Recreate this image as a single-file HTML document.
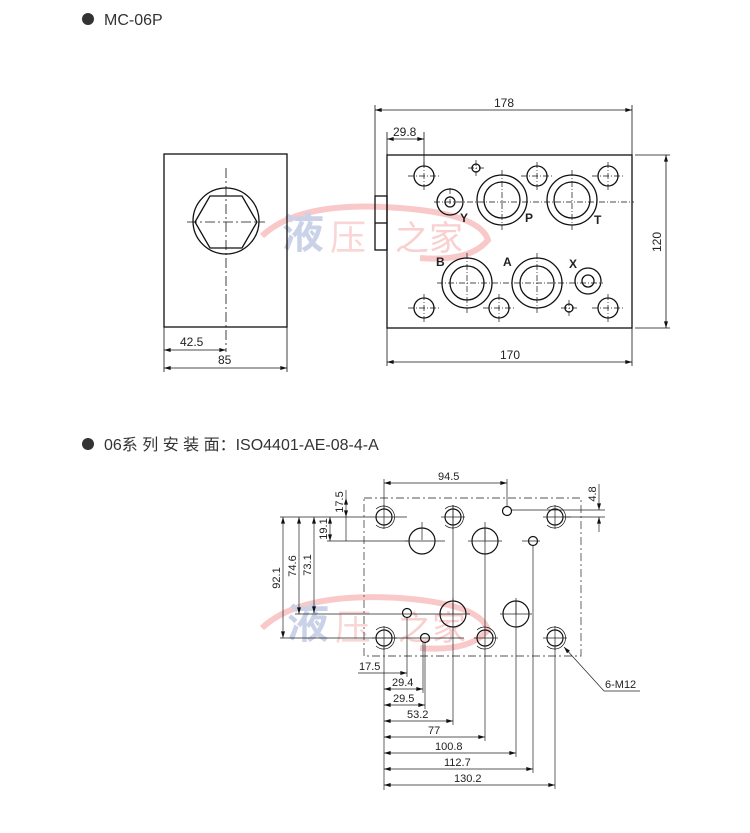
<!DOCTYPE html>
<html><head><meta charset="utf-8"><style>
html,body{margin:0;padding:0;background:#fff;}
svg{display:block}
text{font-family:"Liberation Sans","Noto Sans CJK SC",sans-serif;fill:#222}
</style></head><body>
<svg width="750" height="833" viewBox="0 0 750 833" xmlns="http://www.w3.org/2000/svg">
<defs>
<marker id="a" viewBox="0 0 10 6" refX="10" refY="3" markerWidth="8" markerHeight="4" orient="auto-start-reverse" markerUnits="userSpaceOnUse"><path d="M0,0L10,3L0,6z" fill="#111"/></marker>
</defs>
<!-- watermarks -->
<g opacity="0.35">
<path d="M262,236 Q300,200 400,208 Q480,214 488,240 Q470,262 420,258" fill="none" stroke="#e66" stroke-width="6"/>
<text x="282" y="248" font-size="42" fill="#6b7fc0" style="fill:#6b7fc0" font-family="Noto Serif CJK SC,serif" font-weight="bold">液</text>
<text x="330" y="250" font-size="36" style="fill:#e88">压</text>
<text x="395" y="250" font-size="34" style="fill:#e77">之家</text>
<path d="M262,628 Q300,592 400,598 Q480,604 488,630 Q470,652 420,648" fill="none" stroke="#e66" stroke-width="6"/>
<text x="287" y="638" font-size="42" style="fill:#6b7fc0" font-family="Noto Serif CJK SC,serif" font-weight="bold">液</text>
<text x="335" y="640" font-size="36" style="fill:#e88">压</text>
<text x="398" y="640" font-size="34" style="fill:#e77">之家</text>
</g>

<!-- headers -->
<circle cx="88" cy="19" r="6" fill="#333"/>
<text x="104" y="25" font-size="16" style="fill:#333">MC-06P</text>
<circle cx="88" cy="444" r="6" fill="#333"/>
<text x="104" y="450" font-size="16" style="fill:#333">06系 列 安 装 面：ISO4401-AE-08-4-A</text>

<g stroke="#111" fill="none" stroke-width="1.3">
<!-- left view -->
<rect x="164" y="154" width="123" height="173"/>
<circle cx="226" cy="221" r="33"/>
<polygon points="195,222 210,196 242,196 257,222 242,248 210,248"/>
</g>
<g stroke="#111" fill="none" stroke-width="0.8">
<line x1="226" y1="168" x2="226" y2="352" stroke-dasharray="10,3,2,3"/>
<line x1="187" y1="222" x2="265" y2="222" stroke-dasharray="10,3,2,3"/>
<line x1="164" y1="327" x2="164" y2="372"/>
<line x1="287" y1="327" x2="287" y2="372"/>
<line x1="164" y1="350" x2="226" y2="350" marker-start="url(#a)" marker-end="url(#a)"/>
<line x1="164" y1="368" x2="287" y2="368" marker-start="url(#a)" marker-end="url(#a)"/>
</g>
<text x="180" y="346" font-size="12">42.5</text>
<text x="218" y="364" font-size="12">85</text>

<!-- top plate -->
<g stroke="#111" fill="none" stroke-width="1.3">
<rect x="387" y="155" width="245" height="173"/>
<rect x="375" y="196" width="12" height="54"/>
<line x1="375" y1="223" x2="387" y2="223"/>
<circle cx="424" cy="176" r="10"/><circle cx="537" cy="176" r="10"/><circle cx="608" cy="176" r="10"/>
<circle cx="424" cy="308" r="10"/><circle cx="499" cy="308" r="10"/><circle cx="608" cy="308" r="10"/>
<circle cx="476" cy="168" r="4"/><circle cx="569" cy="308" r="4"/>
<circle cx="450" cy="202" r="13"/><circle cx="450" cy="202" r="5"/>
<circle cx="502" cy="200" r="25"/><circle cx="502" cy="200" r="18"/>
<circle cx="572" cy="200" r="25"/><circle cx="572" cy="200" r="18"/>
<circle cx="467" cy="283" r="25"/><circle cx="467" cy="283" r="17"/>
<circle cx="537" cy="283" r="25"/><circle cx="537" cy="283" r="17"/>
<circle cx="588" cy="281" r="13"/><circle cx="588" cy="281" r="6"/>
</g>
<g stroke="#111" fill="none" stroke-width="0.7" stroke-dasharray="6,2,1,2">
<path d="M408,176h32M424,162v28M521,176h32M537,162v28M592,176h32M608,162v28"/>
<path d="M408,308h32M424,294v28M483,308h32M499,294v28M592,308h32M608,294v28"/>
<path d="M468,168h16M476,160v16M561,308h16M569,300v16"/>
<path d="M434,202h200M450,188v16M502,170v60M572,170v60"/>
<path d="M437,283h166M467,253v60M537,253v60"/>
</g>
<g stroke="#111" fill="none" stroke-width="0.8">
<line x1="375" y1="105" x2="375" y2="196"/>
<line x1="632" y1="105" x2="632" y2="155"/>
<line x1="375" y1="110" x2="632" y2="110" marker-start="url(#a)" marker-end="url(#a)"/>
<line x1="387" y1="132" x2="387" y2="155"/>
<line x1="424" y1="132" x2="424" y2="166"/>
<line x1="387" y1="139" x2="424" y2="139" marker-start="url(#a)" marker-end="url(#a)"/>
<line x1="635" y1="155" x2="670" y2="155"/>
<line x1="635" y1="328" x2="670" y2="328"/>
<line x1="666" y1="155" x2="666" y2="328" marker-start="url(#a)" marker-end="url(#a)"/>
<line x1="387" y1="328" x2="387" y2="366"/>
<line x1="632" y1="328" x2="632" y2="366"/>
<line x1="387" y1="362" x2="632" y2="362" marker-start="url(#a)" marker-end="url(#a)"/>
</g>
<text x="494" y="107" font-size="12">178</text>
<text x="393" y="136" font-size="12">29.8</text>
<text x="500" y="359" font-size="12">170</text>
<text x="661" y="242" font-size="12" transform="rotate(-90 661 242)" text-anchor="middle">120</text>
<g font-size="12" font-weight="bold">
<text x="460" y="222">Y</text><text x="525" y="222">P</text><text x="594" y="224">T</text>
<text x="436" y="266">B</text><text x="503" y="266">A</text><text x="569" y="268">X</text>
</g>

<!-- bottom mounting face -->
<g stroke="#555" fill="none" stroke-width="0.9" stroke-dasharray="8,3,2,3">
<rect x="364" y="498" width="217" height="158"/>
</g>
<g stroke="#111" fill="none" stroke-width="1.2">
<circle cx="384" cy="517" r="8"/><circle cx="453" cy="517" r="8"/><circle cx="555" cy="517" r="8"/>
<circle cx="384" cy="638" r="8"/><circle cx="485" cy="638" r="8"/><circle cx="555" cy="638" r="8"/>
<circle cx="422" cy="541" r="13"/><circle cx="485" cy="541" r="13"/>
<circle cx="453" cy="614" r="13"/><circle cx="516" cy="614" r="13"/>
<circle cx="507" cy="511" r="4.5"/><circle cx="533" cy="541" r="4.5"/>
<circle cx="407" cy="613" r="4.5"/><circle cx="425" cy="638" r="4.5"/>
</g>
<g stroke="#111" fill="none" stroke-width="0.7">
<path d="M376,509a11,11 0 1,1 0,16M445,509a11,11 0 1,1 0,16M547,509a11,11 0 1,1 0,16"/>
<path d="M376,630a11,11 0 1,1 0,16M477,630a11,11 0 1,1 0,16M547,630a11,11 0 1,1 0,16"/>
</g>
<g stroke="#222" fill="none" stroke-width="0.7">
<!-- center lines -->
<path d="M372,517h35M384,505v24M441,517h24M453,505v24M543,517h28M555,505v24"/>
<path d="M372,638h25M384,626v24M474,638h24M543,638h24M555,626v24"/>
<path d="M405,541h40M468,541h34M522,541h18M422,522v18M485,522v18"/>
<path d="M440,614h30M500,614h32M453,598v16M516,598v16"/>
<!-- horizontal extension lines -->
<line x1="280" y1="517" x2="372" y2="517"/>
<line x1="327" y1="541" x2="408" y2="541"/>
<line x1="295" y1="614" x2="442" y2="614"/>
<line x1="280" y1="638" x2="464" y2="638"/>
<!-- vertical dims -->
<line x1="283" y1="517" x2="283" y2="638" marker-start="url(#a)" marker-end="url(#a)"/>
<line x1="299" y1="517" x2="299" y2="614" marker-start="url(#a)" marker-end="url(#a)"/>
<line x1="314" y1="517" x2="314" y2="613" marker-start="url(#a)" marker-end="url(#a)"/>
<line x1="330" y1="517" x2="330" y2="541" marker-start="url(#a)" marker-end="url(#a)"/>
<line x1="346" y1="490" x2="346" y2="498"/>
<line x1="346" y1="498" x2="346" y2="517" marker-start="url(#a)" marker-end="url(#a)"/>
<line x1="346" y1="517" x2="346" y2="541"/>
<!-- 94.5 -->
<line x1="384" y1="479" x2="384" y2="509"/>
<line x1="507" y1="479" x2="507" y2="506"/>
<line x1="384" y1="483" x2="507" y2="483" marker-start="url(#a)" marker-end="url(#a)"/>
<!-- 4.8 -->
<line x1="511" y1="510" x2="605" y2="510"/>
<line x1="563" y1="517" x2="605" y2="517"/>
<line x1="599" y1="484" x2="599" y2="510" marker-end="url(#a)"/>
<line x1="599" y1="532" x2="599" y2="517" marker-end="url(#a)"/>
<!-- vertical ext lines down -->
<line x1="384" y1="646" x2="384" y2="790"/>
<line x1="407" y1="617" x2="407" y2="677"/>
<line x1="423" y1="642" x2="423" y2="693"/>
<line x1="425" y1="642" x2="425" y2="709"/>
<line x1="453" y1="505" x2="453" y2="725"/>
<line x1="485" y1="528" x2="485" y2="741"/>
<line x1="516" y1="601" x2="516" y2="757"/>
<line x1="533" y1="546" x2="533" y2="773"/>
<line x1="555" y1="646" x2="555" y2="789"/>
<!-- horizontal dims -->
<line x1="358" y1="673" x2="407" y2="673" marker-end="url(#a)"/>
<line x1="384" y1="689" x2="423" y2="689" marker-start="url(#a)" marker-end="url(#a)"/>
<line x1="384" y1="705" x2="425" y2="705" marker-start="url(#a)" marker-end="url(#a)"/>
<line x1="384" y1="721" x2="453" y2="721" marker-start="url(#a)" marker-end="url(#a)"/>
<line x1="384" y1="737" x2="485" y2="737" marker-start="url(#a)" marker-end="url(#a)"/>
<line x1="384" y1="753" x2="516" y2="753" marker-start="url(#a)" marker-end="url(#a)"/>
<line x1="384" y1="769" x2="533" y2="769" marker-start="url(#a)" marker-end="url(#a)"/>
<line x1="384" y1="785" x2="555" y2="785" marker-start="url(#a)" marker-end="url(#a)"/>
<!-- leader -->
<line x1="604" y1="691" x2="564" y2="647" marker-end="url(#a)"/>
<line x1="604" y1="691" x2="640" y2="691"/>
</g>
<g font-size="11">
<text x="438" y="480">94.5</text>
<text x="359" y="670">17.5</text>
<text x="392" y="686">29.4</text>
<text x="393" y="702">29.5</text>
<text x="407" y="718">53.2</text>
<text x="428" y="734">77</text>
<text x="435" y="750">100.8</text>
<text x="444" y="766">112.7</text>
<text x="454" y="782">130.2</text>
<text x="605" y="688">6-M12</text>
<text transform="translate(280 578) rotate(-90)" text-anchor="middle">92.1</text>
<text transform="translate(296 566) rotate(-90)" text-anchor="middle">74.6</text>
<text transform="translate(311 565) rotate(-90)" text-anchor="middle">73.1</text>
<text transform="translate(327 529) rotate(-90)" text-anchor="middle">19.1</text>
<text transform="translate(343 502) rotate(-90)" text-anchor="middle">17.5</text>
<text transform="translate(596 494) rotate(-90)" text-anchor="middle">4.8</text>
</g>
</svg>
</body></html>
